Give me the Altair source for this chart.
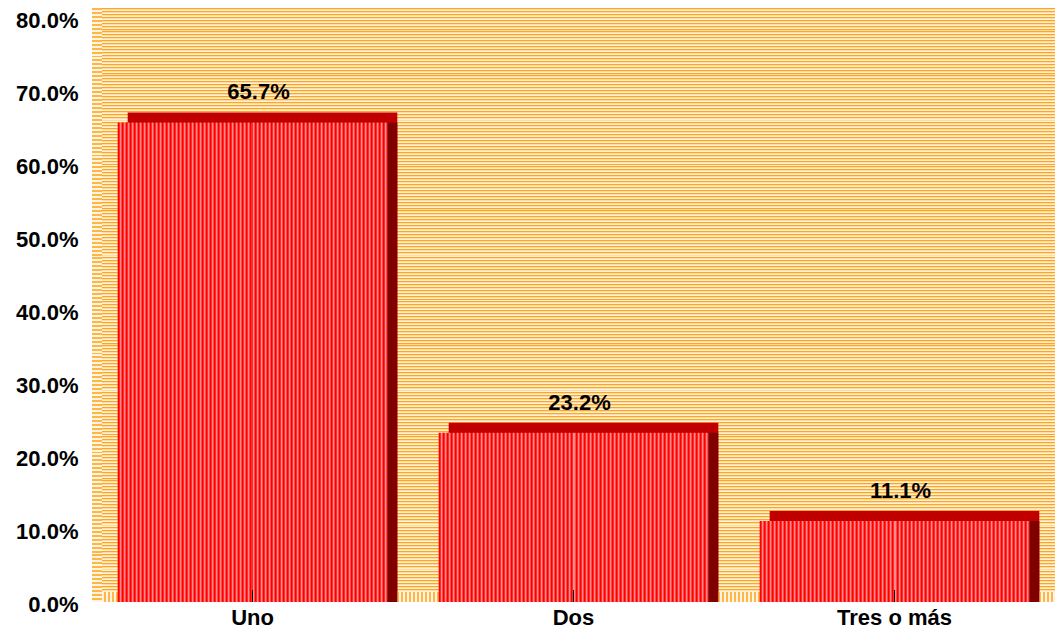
import altair as alt
import pandas as pd

categories = ["Uno", "Dos", "Tres o más"]
values = [0.657, 0.232, 0.111]

W, H, D = 963, 584, 10
FONT = "Liberation Sans, Arial, sans-serif"

df = pd.DataFrame({"cat": categories, "val": values})


def stripes(colors, n, along_x):
    stops = []
    k = len(colors)
    tot = n * k
    for i in range(n):
        for j, c in enumerate(colors):
            a = round((i * k + j) / tot, 5)
            b = round((i * k + j + 1) / tot, 5)
            stops.append(alt.GradientStop(color=c, offset=a))
            stops.append(alt.GradientStop(color=c, offset=b))
    if along_x:
        return alt.LinearGradient(gradient="linear", stops=stops, x1=0, x2=1, y1=0, y2=0)
    return alt.LinearGradient(gradient="linear", stops=stops, x1=0, x2=0, y1=0, y2=1)


wall_fill = stripes(["#FFA526", "#FFDCA0", "#FFF0D8"], 199, False)
bar_fill = stripes(["#FF0000", "#FF2A2A", "#FF8C8C", "#FF4A4A"], 67, True)
floor_fill = stripes(["#FFB648", "#FFF4E0"], 240, True)
side_fill = stripes(["#FFB648", "#FFF4E0"], 150, False)

dummy = alt.Data(values=[{}])

floor = alt.Chart(dummy).mark_rect(fill=floor_fill, strokeWidth=0).encode(
    x=alt.value(0), x2=alt.value(W), y=alt.value(H - D), y2=alt.value(H)
)
leftwall = alt.Chart(dummy).mark_rect(fill=side_fill, strokeWidth=0).encode(
    x=alt.value(0), x2=alt.value(D), y=alt.value(-D), y2=alt.value(H)
)
wall = alt.Chart(dummy).mark_rect(fill=wall_fill, strokeWidth=0).encode(
    x=alt.value(D), x2=alt.value(W), y=alt.value(-D), y2=alt.value(H - D)
)

xenc = alt.X(
    "cat:N",
    sort=categories,
    scale=alt.Scale(paddingInner=0.16, paddingOuter=0.08),
    axis=alt.Axis(
        title=None,
        labelAngle=0,
        ticks=False,
        domain=False,
        labelFont=FONT,
        labelFontSize=22,
        labelFontWeight="bold",
        labelColor="#000000",
        labelPadding=22,
        labelBaseline="alphabetic",
    ),
)
yenc = alt.Y(
    "val:Q",
    scale=alt.Scale(domain=[0, 0.8], nice=False),
    axis=alt.Axis(
        title=None,
        format=".1%",
        values=[0, 0.1, 0.2, 0.3, 0.4, 0.5, 0.6, 0.7, 0.8],
        grid=False,
        ticks=False,
        domain=False,
        labelFont=FONT,
        labelFontSize=22,
        labelFontWeight="bold",
        labelColor="#000000",
        labelPadding=14,
        labelOffset=2,
    ),
)

base = alt.Chart(df)

top_face = base.mark_bar(
    color="#C00000", xOffset=D, x2Offset=D, yOffset=-D, y2Offset=-D
).encode(x=xenc, y=yenc)
side_face = base.mark_bar(
    color="#800000", xOffset=D, x2Offset=D, yOffset=0, y2Offset=-D
).encode(x=xenc, y=yenc)
front = base.mark_bar(fill=bar_fill, strokeWidth=0).encode(x=xenc, y=yenc)

ticks = base.mark_rule(color="#000000", strokeWidth=1).encode(
    x=alt.X("cat:N", sort=categories), y=alt.value(H - 12), y2=alt.value(H)
)

labels = base.mark_text(
    font=FONT, fontSize=22, fontWeight="bold", color="#000000",
    baseline="middle", dx=D / 2 + 1, dy=-30
).encode(x=alt.X("cat:N", sort=categories), y="val:Q", text=alt.Text("val:Q", format=".1%"))

chart = alt.layer(
    floor, leftwall, wall, top_face, side_face, front, ticks, labels
).properties(
    width=W,
    height=H,
    padding={"left": 84, "top": 10, "right": 0, "bottom": 27},
    autosize=alt.AutoSizeParams(type="none"),
    background="#FFFFFF",
).configure_view(stroke=None)

chart.save("out.html", embed_options={"renderer": "svg", "actions": False})
